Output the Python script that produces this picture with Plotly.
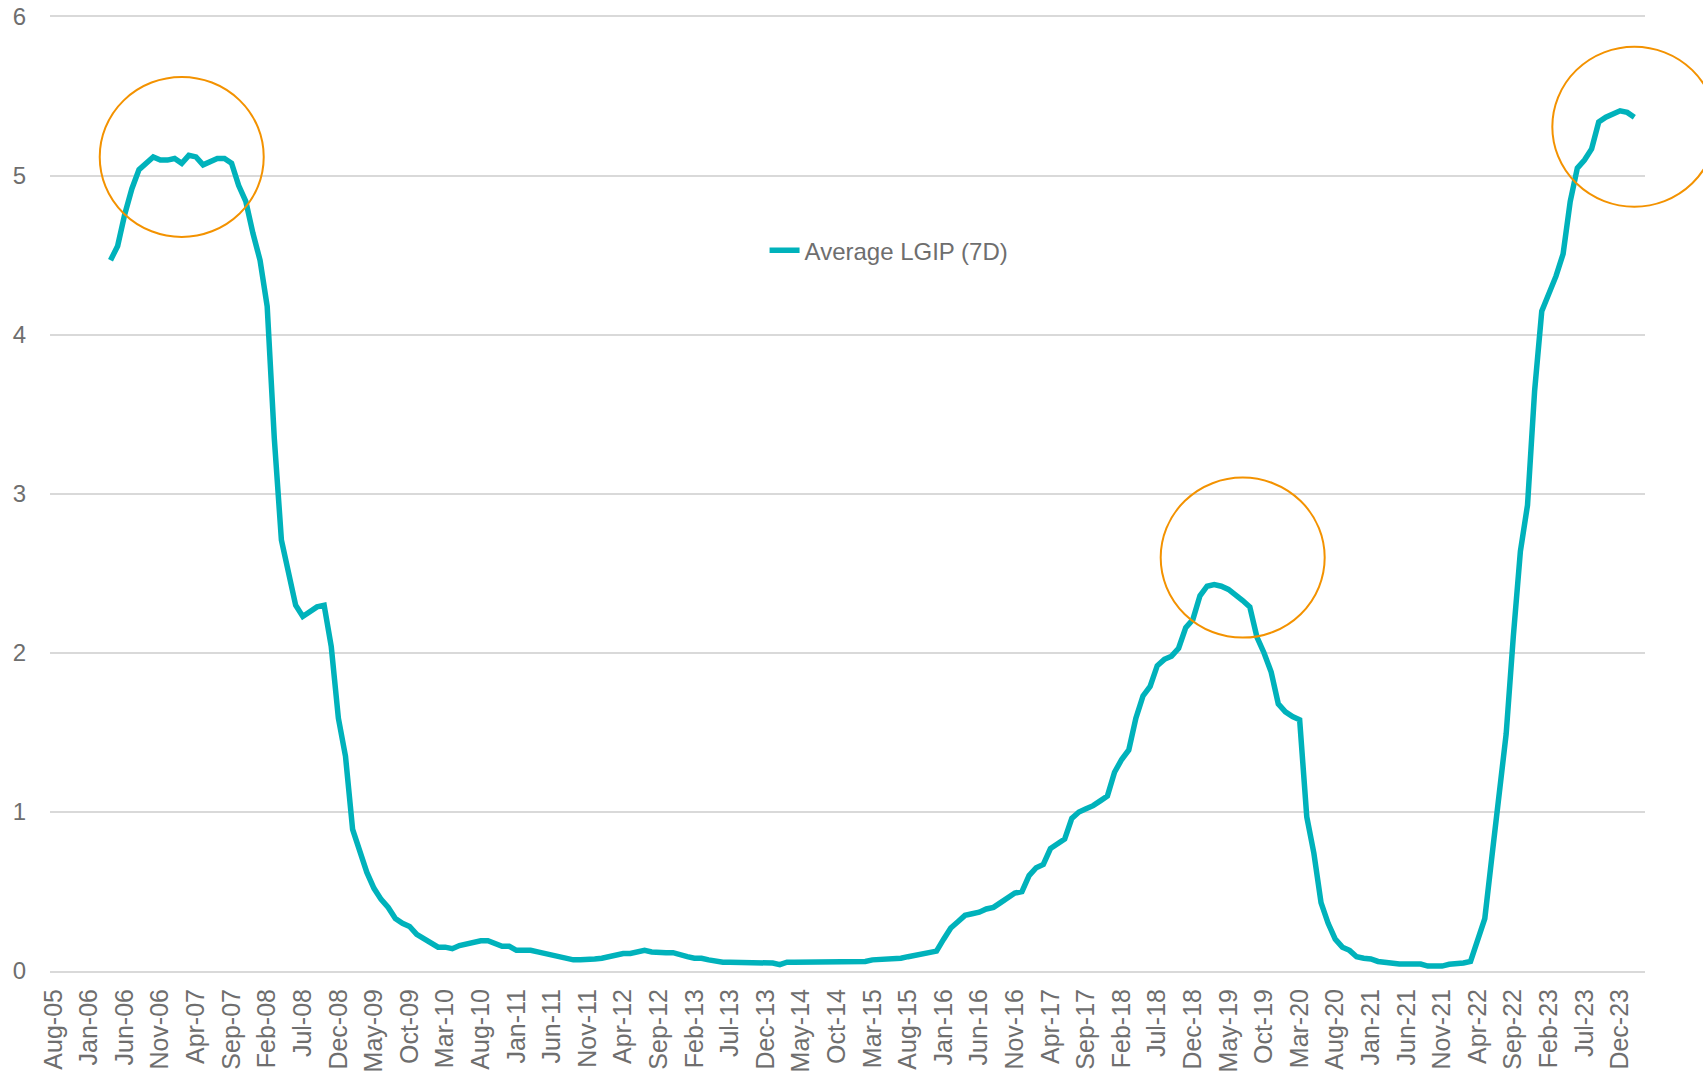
import pandas as pd
import plotly.graph_objects as go

# Monthly categories on the x axis (Aug-05 .. Mar-24)
months = pd.date_range("2005-08-01", "2024-03-01", freq="MS").strftime("%b-%y").tolist()

tick_labels = [
    "Aug-05", "Jan-06", "Jun-06", "Nov-06", "Apr-07", "Sep-07", "Feb-08", "Jul-08", "Dec-08",
    "May-09", "Oct-09", "Mar-10", "Aug-10", "Jan-11", "Jun-11", "Nov-11", "Apr-12", "Sep-12",
    "Feb-13", "Jul-13", "Dec-13", "May-14", "Oct-14", "Mar-15", "Aug-15", "Jan-16", "Jun-16",
    "Nov-16", "Apr-17", "Sep-17", "Feb-18", "Jul-18", "Dec-18", "May-19", "Oct-19", "Mar-20",
    "Aug-20", "Jan-21", "Jun-21", "Nov-21", "Apr-22", "Sep-22", "Feb-23", "Jul-23", "Dec-23",
]

# Average LGIP (7D) yield, %, monthly (Apr-06 .. Feb-24)
lgip_2006 = [4.47, 4.56, 4.76, 4.92, 5.04, 5.08, 5.12, 5.10, 5.10]
lgip_2007 = [5.11, 5.08, 5.13, 5.12, 5.07, 5.09, 5.11, 5.11, 5.08, 4.94, 4.84, 4.64]
lgip_2008 = [4.47, 4.18, 3.35, 2.71, 2.49, 2.30, 2.23, 2.26, 2.29, 2.30, 2.04, 1.59]
lgip_2009 = [1.35, 0.89, 0.74, 0.62, 0.52, 0.45, 0.40, 0.33, 0.30, 0.28, 0.23, 0.20]
lgip_2010 = [0.18, 0.15, 0.15, 0.14, 0.16, 0.17, 0.18, 0.19, 0.19, 0.17, 0.155, 0.155]
lgip_2011 = [0.13, 0.13, 0.13, 0.12, 0.11, 0.10, 0.09, 0.08, 0.07, 0.07, 0.07, 0.075]
lgip_2012 = [0.08, 0.09, 0.10, 0.11, 0.11, 0.12, 0.13, 0.12, 0.115, 0.115, 0.115, 0.10]
lgip_2013 = [0.09, 0.08, 0.08, 0.07, 0.06, 0.055, 0.055, 0.055, 0.055, 0.055, 0.055, 0.055]
lgip_2014 = [0.05, 0.04, 0.055, 0.055, 0.055, 0.055, 0.055, 0.055, 0.055, 0.055, 0.055, 0.055]
lgip_2015 = [0.055, 0.06, 0.07, 0.072, 0.072, 0.072, 0.08, 0.09, 0.10, 0.11, 0.115, 0.125]
lgip_2016 = [0.20, 0.27, 0.31, 0.35, 0.36, 0.37, 0.39, 0.40, 0.43, 0.46, 0.49, 0.50]
lgip_2017 = [0.60, 0.65, 0.67, 0.77, 0.80, 0.83, 0.96, 1.00, 1.02, 1.04, 1.07, 1.10]
lgip_2018 = [1.25, 1.33, 1.39, 1.59, 1.73, 1.79, 1.92, 1.96, 1.98, 2.03, 2.16, 2.21]
lgip_2019 = [2.36, 2.42, 2.43, 2.42, 2.40, 2.37, 2.33, 2.29, 2.10, 2.00, 1.88, 1.68]
lgip_2020 = [1.63, 1.60, 1.58, 0.97, 0.74, 0.43, 0.30, 0.20, 0.15, 0.13, 0.09, 0.08]
lgip_2021 = [0.076, 0.06, 0.052, 0.044, 0.044, 0.044, 0.044, 0.044, 0.031, 0.031, 0.031, 0.042]
lgip_2022 = [0.042, 0.05, 0.06, 0.21, 0.33, 0.72, 1.13, 1.49, 2.10, 2.64, 2.93, 3.65]
lgip_2023 = [4.15, 4.25, 4.37, 4.51, 4.84, 5.05, 5.10, 5.17, 5.34, 5.37, 5.39, 5.41]
lgip_2024 = [5.40, 5.37]

lgip = (lgip_2006 + lgip_2007 + lgip_2008 + lgip_2009 + lgip_2010 + lgip_2011 + lgip_2012
        + lgip_2013 + lgip_2014 + lgip_2015 + lgip_2016 + lgip_2017 + lgip_2018 + lgip_2019
        + lgip_2020 + lgip_2021 + lgip_2022 + lgip_2023 + lgip_2024)
start = months.index("Apr-06")
x_months = months[start:start + len(lgip)]

# Highlight circles: centre (category, value)
highlights = [("Feb-07", 5.12), ("Jul-19", 2.60), ("Feb-24", 5.31)]

W, H = 1703, 1073
M = dict(l=50, r=58, t=17, b=102, autoexpand=False)
PW = W - M["l"] - M["r"]
PH = H - M["t"] - M["b"]
YMAX = 6
RX, RY = 82, 80

TEAL = "#00B2BB"
ORANGE = "#F39200"
GRID = "#D9D9D9"
GREY_TXT = "#6E6E6E"
FONT = "Liberation Sans, Arial, sans-serif"

fig = go.Figure()
fig.add_trace(go.Scatter(
    x=x_months, y=lgip, mode="lines", name="Average LGIP (7D)",
    line=dict(color=TEAL, width=5.5),
))

n = len(months)
shapes = []
for cat, val in highlights:
    cx = (months.index(cat) + 0.5) / n
    cy = val / YMAX
    shapes.append(dict(
        type="circle", xref="paper", yref="paper",
        x0=cx - RX / PW, x1=cx + RX / PW, y0=cy - RY / PH, y1=cy + RY / PH,
        line=dict(color=ORANGE, width=2), fillcolor="rgba(0,0,0,0)", layer="above",
    ))

fig.update_layout(
    width=W, height=H, margin=M,
    paper_bgcolor="white", plot_bgcolor="white",
    font=dict(family=FONT, color=GREY_TXT),
    shapes=shapes,
    showlegend=True,
    legend=dict(x=0.448, y=0.755, xanchor="left", yanchor="middle",
                font=dict(size=24, color=GREY_TXT), bgcolor="rgba(0,0,0,0)"),
    xaxis=dict(
        type="category", categoryorder="array", categoryarray=months,
        range=[-0.5, n - 0.5], tickmode="array", tickvals=tick_labels, ticktext=tick_labels,
        tickangle=-90, tickfont=dict(size=25, color=GREY_TXT), showgrid=False,
        showline=True, linecolor=GRID, linewidth=2, mirror=True,
        zeroline=False, ticks="", ticklabelstandoff=6, automargin=False,
    ),
    yaxis=dict(
        range=[0, YMAX], tickvals=[0, 1, 2, 3, 4, 5, 6], showgrid=True,
        gridcolor=GRID, gridwidth=2, zeroline=False, showline=False,
        tickfont=dict(size=24, color=GREY_TXT), ticks="", ticklabelstandoff=23,
        automargin=False,
    ),
)

# remove the browser's default 8px body margin so the figure fills the window
fig.write_html("out.html", config={"displayModeBar": False},
               post_script="document.body.style.margin='0';")
